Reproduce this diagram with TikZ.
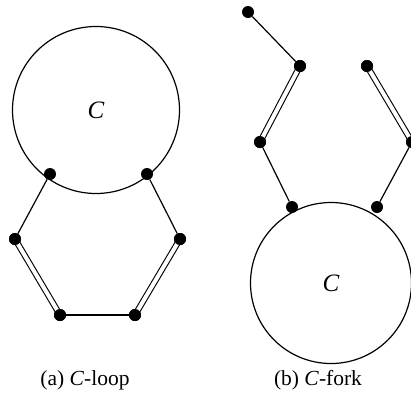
\documentclass[tikz,border=0pt]{standalone}
\usepackage{fontspec}
\setmainfont{Liberation Serif}
\begin{document}
\begin{tikzpicture}[x=1pt,y=-1pt,
  dot/.style={circle,fill=black,inner sep=0pt,minimum size=12pt},
  bond/.style={line width=1.2pt},
  dbond/.style={line width=1.1pt,double,double distance=4pt},
  lbl/.style={font=\fontsize{21.5}{25}\selectfont},
  clbl/.style={font=\fontsize{25}{28}\selectfont\itshape}]
\useasboundingbox (0,0) rectangle (411,400);
% (a)
\draw[bond] (96,110) circle (83.5);
\node[clbl] (ca) at (96,110) {C};
\node[dot] (a1) at (50,174) {};
\node[dot] (a2) at (147,174) {};
\node[dot] (a3) at (15,239) {};
\node[dot] (a4) at (180,239) {};
\node[dot] (a5) at (60,315) {};
\node[dot] (a6) at (135,315) {};
\draw[bond] (a1) -- (a3);
\draw[bond] (a2) -- (a4);
\draw[dbond] (a3.center) -- (a5.center);
\draw[dbond] (a4.center) -- (a6.center);
\draw[bond] (a5) -- (a6);
\node[dot] at (a3) {};\node[dot] at (a4) {};\node[dot] at (a5) {};\node[dot] at (a6) {};
% (b)
\draw[bond] (331,283) circle (80.5);
\node[clbl] (cb) at (331,283) {C};
\node[dot] (b1) at (248,12) {};
\node[dot] (b2) at (300,66) {};
\node[dot] (b3) at (260,142) {};
\node[dot] (b4) at (292,207) {};
\node[dot] (b5) at (377,207) {};
\node[dot] (b6) at (367,66) {};
\node[dot] (b7) at (412,142) {};
\draw[bond] (b1) -- (b2);
\draw[dbond] (b2.center) -- (b3.center);
\draw[bond] (b3) -- (b4);
\draw[dbond] (b6.center) -- (b7.center);
\draw[bond] (b7) -- (b5);
\node[dot] at (b2) {};\node[dot] at (b3) {};\node[dot] at (b6) {};\node[dot] at (b7) {};
% captions
\node[lbl] (capa) at (85,380) {(a) \textit{C}-loop};
\node[lbl] (capb) at (318,380) {(b) \textit{C}-fork};
\end{tikzpicture}
\end{document}
